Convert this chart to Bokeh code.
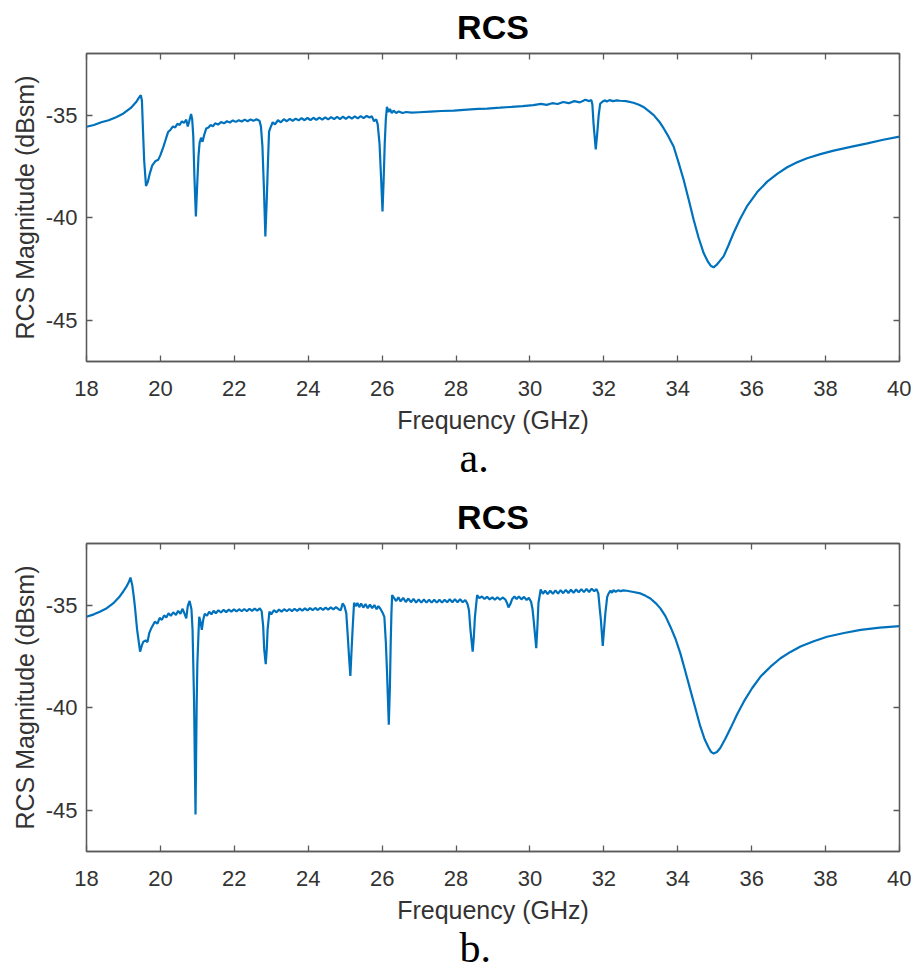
from bokeh.plotting import figure
from bokeh.layouts import column
from bokeh.models import Range1d, FixedTicker, LinearAxis, Title
from bokeh.embed import file_html
from bokeh.resources import INLINE

# ---------------- data ----------------
FREQ_A = [18.00, 18.20, 18.40, 18.60, 18.80, 19.00, 19.20, 19.35, 19.42, 19.47,
          19.50, 19.53, 19.56, 19.61, 19.66, 19.72, 19.78, 19.86, 19.94, 20.00,
          20.08, 20.15, 20.21, 20.28, 20.34, 20.40, 20.46, 20.52, 20.58, 20.64,
          20.70, 20.74, 20.78, 20.83, 20.86, 20.89, 20.92, 20.96, 21.00, 21.03,
          21.06, 21.10, 21.14, 21.18, 21.24, 21.30, 21.36, 21.42, 21.48, 21.56,
          21.64, 21.72, 21.80, 21.88, 21.96, 22.04, 22.12, 22.20, 22.28, 22.36,
          22.44, 22.52, 22.60, 22.68, 22.72, 22.76, 22.80, 22.84, 22.88, 22.91,
          22.94, 22.98, 23.04, 23.10, 23.18, 23.26, 23.34, 23.42, 23.50, 23.58,
          23.66, 23.74, 23.82, 23.90, 23.98, 24.06, 24.14, 24.22, 24.30, 24.38,
          24.46, 24.54, 24.62, 24.70, 24.78, 24.86, 24.94, 25.02, 25.10, 25.18,
          25.26, 25.34, 25.42, 25.50, 25.58, 25.66, 25.72, 25.78, 25.84, 25.88,
          25.93, 25.97, 26.01, 26.04, 26.07, 26.10, 26.13, 26.17, 26.21, 26.26,
          26.31, 26.38, 26.45, 26.55, 26.65, 26.80, 27.00, 27.30, 27.60, 27.94,
          28.30, 28.60, 28.84, 29.19, 29.50, 29.80, 30.09, 30.30, 30.45, 30.60,
          30.75, 30.90, 31.05, 31.20, 31.35, 31.50, 31.60, 31.66, 31.69, 31.72,
          31.78, 31.82, 31.86, 31.90, 31.96, 32.02, 32.08, 32.15, 32.25, 32.35,
          32.44, 32.60, 32.80, 32.95, 33.07, 33.20, 33.35, 33.50, 33.62, 33.75,
          33.89, 34.02, 34.16, 34.30, 34.43, 34.56, 34.70, 34.82, 34.90, 34.97,
          35.05, 35.14, 35.24, 35.37, 35.51, 35.69, 35.87, 36.15, 36.42, 36.70,
          36.96, 37.23, 37.50, 37.86, 38.22, 38.68, 39.13, 39.56, 40.00]

RCS_A = [-35.57, -35.48, -35.35, -35.25, -35.10, -34.92, -34.65, -34.35, -34.15, -34.03,
         -34.30, -35.80, -37.20, -38.45, -38.25, -37.80, -37.45, -37.25, -37.18, -36.95,
         -36.55, -36.15, -35.82, -35.70, -35.55, -35.60, -35.42, -35.48, -35.30, -35.38,
         -35.22, -35.55, -35.30, -34.95, -35.20, -36.05, -38.00, -39.94, -38.20, -37.00,
         -36.35, -36.10, -36.30, -36.00, -35.65, -35.60, -35.48, -35.55, -35.40, -35.46,
         -35.34, -35.40, -35.30, -35.36, -35.26, -35.33, -35.25, -35.31, -35.22, -35.30,
         -35.21, -35.28, -35.20, -35.27, -35.55, -36.50, -38.50, -40.91, -39.00, -37.30,
         -35.80, -35.60, -35.35, -35.45, -35.25, -35.35, -35.20, -35.30, -35.18, -35.28,
         -35.17, -35.26, -35.15, -35.25, -35.14, -35.24, -35.13, -35.23, -35.12, -35.22,
         -35.11, -35.21, -35.10, -35.20, -35.09, -35.19, -35.08, -35.18, -35.07, -35.17,
         -35.06, -35.16, -35.05, -35.15, -35.04, -35.12, -35.05, -35.30, -35.20, -35.45,
         -36.40, -38.00, -39.69, -38.20, -36.40, -35.20, -34.60, -34.85, -34.70, -34.90,
         -34.78, -34.90, -34.82, -34.90, -34.85, -34.88, -34.86, -34.83, -34.80, -34.78,
         -34.73, -34.70, -34.68, -34.64, -34.60, -34.56, -34.51, -34.45, -34.50, -34.42,
         -34.46, -34.36, -34.42, -34.32, -34.38, -34.25, -34.32, -34.26, -34.50, -35.40,
         -36.67, -35.90, -35.00, -34.45, -34.35, -34.28, -34.34, -34.27, -34.32, -34.28,
         -34.30, -34.32, -34.40, -34.50, -34.60, -34.78, -35.00, -35.32, -35.65, -36.05,
         -36.54, -37.30, -38.16, -39.15, -40.10, -40.95, -41.72, -42.15, -42.35, -42.41,
         -42.30, -42.10, -41.88, -41.35, -40.74, -40.05, -39.45, -38.75, -38.24, -37.85,
         -37.54, -37.30, -37.10, -36.90, -36.73, -36.55, -36.38, -36.20, -36.05]

FREQ_B = [18.00, 18.20, 18.36, 18.55, 18.72, 18.88, 18.99, 19.08, 19.14, 19.19,
          19.24, 19.28, 19.31, 19.37, 19.45, 19.50, 19.54, 19.60, 19.65, 19.70,
          19.76, 19.85, 19.92, 19.98, 20.04, 20.10, 20.16, 20.22, 20.28, 20.35,
          20.42, 20.48, 20.54, 20.60, 20.66, 20.70, 20.74, 20.79, 20.84, 20.87,
          20.91, 20.95, 20.98, 21.00, 21.03, 21.05, 21.09, 21.12, 21.16, 21.20,
          21.26, 21.32, 21.38, 21.44, 21.50, 21.57, 21.64, 21.71, 21.78, 21.85,
          21.92, 21.99, 22.06, 22.13, 22.20, 22.27, 22.34, 22.41, 22.48, 22.55,
          22.62, 22.69, 22.74, 22.78, 22.81, 22.85, 22.88, 22.90, 22.95, 23.00,
          23.07, 23.14, 23.21, 23.28, 23.35, 23.42, 23.49, 23.56, 23.63, 23.70,
          23.77, 23.84, 23.91, 23.98, 24.05, 24.12, 24.19, 24.26, 24.33, 24.40,
          24.47, 24.54, 24.61, 24.68, 24.75, 24.82, 24.88, 24.93, 24.98, 25.03,
          25.07, 25.10, 25.14, 25.17, 25.20, 25.24, 25.29, 25.33, 25.38, 25.43,
          25.49, 25.55, 25.61, 25.67, 25.73, 25.79, 25.85, 25.90, 25.96, 26.02,
          26.06, 26.10, 26.13, 26.18, 26.21, 26.23, 26.25, 26.27, 26.32, 26.38,
          26.44, 26.50, 26.57, 26.64, 26.71, 26.78, 26.85, 26.92, 26.99, 27.06,
          27.13, 27.20, 27.27, 27.34, 27.41, 27.48, 27.55, 27.62, 27.69, 27.76,
          27.83, 27.90, 27.97, 28.04, 28.11, 28.18, 28.25, 28.31, 28.35, 28.39,
          28.45, 28.48, 28.51, 28.57, 28.63, 28.70, 28.77, 28.84, 28.91, 28.98,
          29.05, 29.12, 29.19, 29.26, 29.33, 29.38, 29.42, 29.47, 29.52, 29.58,
          29.64, 29.70, 29.77, 29.84, 29.91, 29.97, 30.03, 30.07, 30.10, 30.14,
          30.17, 30.20, 30.23, 30.29, 30.35, 30.41, 30.48, 30.55, 30.62, 30.69,
          30.76, 30.83, 30.90, 30.97, 31.04, 31.11, 31.18, 31.25, 31.32, 31.39,
          31.46, 31.53, 31.60, 31.67, 31.74, 31.80, 31.85, 31.89, 31.92, 31.97,
          32.00, 32.04, 32.09, 32.13, 32.18, 32.22, 32.26, 32.32, 32.38, 32.45,
          32.53, 32.62, 32.80, 32.99, 33.13, 33.26, 33.40, 33.53, 33.67, 33.80,
          33.94, 34.07, 34.20, 34.34, 34.48, 34.61, 34.73, 34.84, 34.90, 34.97,
          35.06, 35.15, 35.29, 35.43, 35.61, 35.79, 36.01, 36.24, 36.51, 36.78,
          37.05, 37.32, 37.68, 38.04, 38.50, 38.95, 39.47, 40.00]

RCS_B = [-35.57, -35.45, -35.32, -35.15, -34.92, -34.62, -34.35, -34.10, -33.90, -33.66,
         -34.05, -34.60, -35.08, -36.21, -37.27, -36.95, -36.78, -36.72, -36.80, -36.35,
         -36.10, -35.81, -35.90, -35.62, -35.72, -35.50, -35.60, -35.40, -35.52, -35.35,
         -35.48, -35.28, -35.42, -35.18, -35.45, -35.65, -35.05, -34.80, -35.20, -36.21,
         -39.61, -45.20, -40.00, -37.83, -36.40, -35.57, -35.85, -36.21, -35.70, -35.42,
         -35.52, -35.32, -35.45, -35.28, -35.40, -35.25, -35.36, -35.23, -35.34, -35.22,
         -35.32, -35.21, -35.31, -35.20, -35.30, -35.19, -35.29, -35.18, -35.28, -35.17,
         -35.27, -35.16, -35.30, -36.00, -37.18, -37.88, -37.10, -36.21, -35.32, -35.45,
         -35.25, -35.35, -35.22, -35.32, -35.20, -35.30, -35.19, -35.29, -35.18, -35.28,
         -35.17, -35.27, -35.16, -35.26, -35.15, -35.25, -35.14, -35.24, -35.13, -35.23,
         -35.12, -35.22, -35.11, -35.21, -35.10, -35.20, -35.25, -34.92, -35.05, -35.40,
         -36.50, -37.40, -38.45, -37.30, -36.20, -34.89, -35.05, -34.90, -35.10, -34.92,
         -35.12, -34.95, -35.15, -34.98, -35.15, -35.00, -35.20, -35.05, -35.20, -35.40,
         -35.57, -36.80, -38.16, -40.83, -39.00, -37.00, -35.50, -34.51, -34.65, -34.80,
         -34.62, -34.82, -34.65, -34.85, -34.68, -34.86, -34.70, -34.88, -34.72, -34.88,
         -34.73, -34.88, -34.74, -34.88, -34.74, -34.88, -34.74, -34.88, -34.74, -34.86,
         -34.72, -34.86, -34.72, -34.86, -34.72, -34.86, -34.75, -34.95, -35.25, -36.21,
         -37.27, -36.60, -35.60, -34.51, -34.66, -34.58, -34.70, -34.60, -34.72, -34.62,
         -34.74, -34.62, -34.74, -34.63, -34.72, -34.90, -35.11, -34.95, -34.70, -34.58,
         -34.70, -34.58, -34.72, -34.60, -34.75, -34.65, -34.84, -35.20, -35.73, -36.50,
         -37.10, -36.10, -34.90, -34.24, -34.45, -34.30, -34.46, -34.30, -34.45, -34.28,
         -34.44, -34.27, -34.42, -34.26, -34.41, -34.25, -34.40, -34.24, -34.38, -34.22,
         -34.37, -34.21, -34.36, -34.20, -34.33, -34.22, -34.43, -35.20, -35.73, -36.99,
         -36.30, -35.40, -34.60, -34.43, -34.30, -34.40, -34.27, -34.36, -34.28, -34.32,
         -34.28, -34.30, -34.36, -34.43, -34.55, -34.68, -34.90, -35.16, -35.55, -36.05,
         -36.65, -37.35, -38.20, -39.13, -40.05, -40.91, -41.55, -41.96, -42.15, -42.23,
         -42.15, -41.96, -41.50, -40.99, -40.30, -39.69, -39.05, -38.48, -38.00, -37.59,
         -37.28, -37.02, -36.76, -36.54, -36.36, -36.21, -36.10, -36.02]

X_TICKS = [18, 20, 22, 24, 26, 28, 30, 32, 34, 36, 38, 40]
Y_TICKS = [-45, -40, -35]
Y_TICK_LABELS = ["-45", "-40", "-35"]
X_LIMITS = [18, 40]
Y_LIMITS = [-47, -32]
TITLE = "RCS"
X_LABEL = "Frequency (GHz)"
Y_LABEL = "RCS Magnitude (dBsm)"
TAGS = ["a.", "b."]

# ---------------- styling ----------------
LINE_COLOR = "#0072BD"
AXIS_COLOR = "#5a5a5a"
TEXT_COLOR = "#333333"
FONT = "Liberation Sans"


def style_axis(ax, ticks, labels=True):
    ax.ticker = FixedTicker(ticks=ticks)
    ax.major_tick_in = 6
    ax.major_tick_out = 0
    ax.minor_tick_line_color = None
    ax.axis_line_color = AXIS_COLOR
    ax.axis_line_width = 1.3
    ax.major_tick_line_color = AXIS_COLOR
    ax.major_tick_line_width = 1.3
    ax.major_label_text_font = FONT
    ax.major_label_text_color = TEXT_COLOR
    ax.axis_label_text_font = FONT
    ax.axis_label_text_font_style = "normal"
    ax.axis_label_text_color = TEXT_COLOR
    ax.axis_label_text_font_size = "25px"
    if labels:
        ax.major_label_text_font_size = "22px"
    else:
        ax.major_label_overrides = {t: "" for t in ticks}
        ax.major_label_text_font_size = "0px"
        ax.major_label_standoff = 0


def make_panel(freq, rcs, tag, height, border_bottom):
    p = figure(width=911, height=height,
               x_range=Range1d(*X_LIMITS), y_range=Range1d(*Y_LIMITS),
               output_backend="svg", toolbar_location=None,
               min_border_left=86, min_border_right=12,
               min_border_top=53, min_border_bottom=border_bottom)
    p.xgrid.visible = False
    p.ygrid.visible = False
    p.outline_line_color = AXIS_COLOR
    p.outline_line_width = 1.3
    p.background_fill_color = "white"
    p.border_fill_color = "white"

    p.line(freq, rcs, line_color=LINE_COLOR, line_width=2.2)

    xb = p.below[0]
    yl = p.left[0]
    style_axis(xb, X_TICKS)
    style_axis(yl, Y_TICKS)
    yl.major_label_overrides = dict(zip(Y_TICKS, Y_TICK_LABELS))
    xb.axis_label = X_LABEL
    yl.axis_label = Y_LABEL
    xb.major_label_standoff = 19
    xb.axis_label_standoff = 7
    yl.major_label_standoff = 9
    yl.axis_label_standoff = 4

    xt = LinearAxis()
    style_axis(xt, X_TICKS, labels=False)
    p.add_layout(xt, "above")
    yr = LinearAxis()
    style_axis(yr, Y_TICKS, labels=False)
    p.add_layout(yr, "right")

    p.title.text = TITLE
    p.title.align = "center"
    p.title.vertical_align = "top"
    p.title.text_font = FONT
    p.title.text_font_size = "34px"
    p.title.text_font_style = "bold"
    p.title.text_color = "black"
    p.title.standoff = 12

    t = Title(text=tag, align="left", offset=373,
              text_font="Liberation Serif", text_font_size="42px",
              text_font_style="normal", text_color="black", standoff=-8)
    p.add_layout(t, "below")
    return p


pa = make_panel(FREQ_A, RCS_A, TAGS[0], 490, 129)
pb = make_panel(FREQ_B, RCS_B, TAGS[1], 485, 124)
layout = column(pa, pb, spacing=0)

open("out.html", "w").write(file_html(layout, INLINE))
